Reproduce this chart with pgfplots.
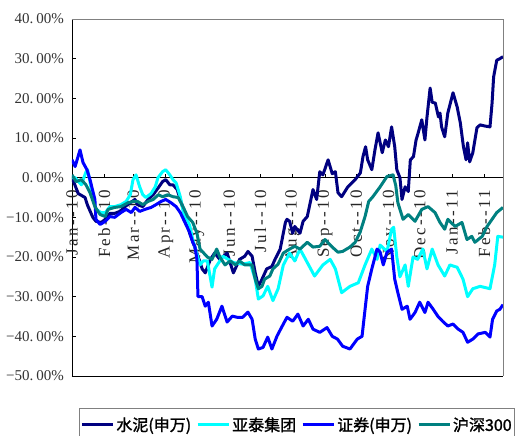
\documentclass[border=0pt]{standalone}
\usepackage{fontspec}
\setmainfont{Liberation Serif}
\newfontfamily\xlabfont[LetterSpace=14]{Liberation Serif}
\newfontfamily\cjk[FakeBold=1.5]{Noto Sans CJK SC}
\usepackage{pgfplots}
\pgfplotsset{compat=1.18}
\definecolor{cNavy}{HTML}{000080}
\definecolor{cCyan}{HTML}{00FFFF}
\definecolor{cBlue}{HTML}{0000FF}
\definecolor{cTeal}{HTML}{008080}
\newcommand\yl[1]{#1\makebox[0.45em][l]{.}00\%}
\begin{document}
\begin{tikzpicture}
\begin{axis}[
  scale only axis, width=431pt, height=357pt,
  xmin=0, xmax=414, ymin=-50, ymax=40,
  axis x line=middle, axis y line=left,
  axis line style={-, black, line width=0.8pt},
  clip mode=individual,
  hide obscured x ticks=false,
  xtick={0,31,59,90,120,151,181,212,243,273,304,334,365,396},
  xticklabels={Jan--10,Feb--10,Mar--10,Apr--10,May--10,Jun--10,Jul--10,Aug--10,Sep--10,Oct--10,Nov--10,Dec--10,Jan--11,Feb--11},
  ytick={-50,-40,-30,-20,-10,0,10,20,30,40},
  yticklabels={\yl{−50},\yl{−40},\yl{−30},\yl{−20},\yl{−10},\yl{0},\yl{10},\yl{20},\yl{30},\yl{40}},
  tick align=inside,
  major tick length=4pt,
  tick style={black, line width=0.8pt},
  x tick label style={font=\xlabfont\fontsize{17}{17}\selectfont, rotate=90, anchor=east, inner xsep=12pt, inner ysep=0pt, text=black!85},
  y tick label style={font=\fontsize{15}{15}\selectfont, anchor=east, inner sep=0pt, xshift=-8pt, text=black!80},
  legend columns=4,
  legend style={at={(0,0)}, anchor=north west, xshift=7pt, yshift=-32pt,
    draw=gray, line width=0.8pt, inner xsep=1pt, inner ysep=7pt,
    font=\cjk\fontsize{16}{16}\selectfont,
    /tikz/every even column/.append style={column sep=3pt}},
  legend image code/.code={\draw[#1] (0pt,0pt) -- (31pt,0pt);},
  every axis plot/.append style={line width=3pt, line join=round},
]
\addplot[cNavy] coordinates {
(0,0) (6,-4) (12.5,-5) (15,-7) (20,-10) (23,-11) (28,-11.3) (32,-10.5) (36.5,-9) (41,-9)
(46,-8.5) (51,-7.3) (56,-6.3) (60.5,-5.5) (63,-6.8) (68,-7.3) (73,-5.5) (78,-4.3) (83,-2.5) (87,-1)
(90,-0.5) (94,-1.8) (97,-1.8) (101,-3) (107,-8) (113,-14) (120,-19) (125,-23) (128,-24) (133,-20.6)
(137,-19) (142,-20.6) (149,-19) (155,-24) (161,-20.6) (166,-19.8) (169,-18.6) (173,-19.8) (176,-24) (179,-27.4)
(182.5,-25.6) (187,-23) (192,-22.4) (195,-20.6) (200,-18) (205,-11.3) (206.5,-10.5) (209,-11) (212,-14) (214,-12.3)
(219,-14) (222,-11) (226,-9.8) (231.5,-3) (235,-5.5) (238,1.5) (241,0.7) (246,4.5) (250,1) (253,1.5)
(255.5,-3.8) (259,-4.8) (265,-2.3) (272,-0.5) (277,1.2) (279.5,5.3) (282,7.8) (284,4.5) (288,2) (291,7)
(294,11.3) (298,6.3) (301,9.5) (304,7.8) (307,12.8) (310,7.8) (312,2) (315,0) (317,-5.5) (320,-2.3)
(323,-3.5) (325,4.5) (328,5.3) (330.5,9.5) (332,10.8) (336,14.6) (339,9.5) (341,15.3) (344,22.6) (346,19)
(349,18.8) (352,15.3) (353.5,16.3) (355,12.8) (358,10.3) (361,16.3) (366,21.4) (370,17.8) (373,13.8) (376,7.8)
(378.5,4.5) (380,8.8) (382,4) (385,6.3) (389,12.6) (392,13.3) (397,13) (401.5,12.8) (403.5,18.8) (405,25.4)
(408,29.6) (411,30) (414,30.5)
};
\addlegendentry{水泥(申万)}
\addplot[cCyan] coordinates {
(0,0) (3,0) (9,-1.8) (13.5,1.5) (15,2) (20,-4.8) (23,-8) (28,-8.8) (32,-8.8) (36.5,-7.3)
(41,-7.3) (47,-6.8) (52,-6) (56,-4.3) (58.6,-0.5) (61.5,0.7) (65,-2.3) (68,-4.3) (71,-5) (76,-4)
(80,-2.3) (82.6,0) (87,1.5) (90,2) (94,0.7) (97,-0.5) (100,-1.3) (104,-4.8) (107,-8.8) (113,-12)
(116,-15.6) (123,-22) (126,-21) (130,-21) (134.5,-27.6) (137,-23) (145,-19.8) (155,-21.4) (164,-21.8) (171,-21.4)
(176,-25.6) (179,-30.6) (183.5,-29.8) (188,-27.4) (193,-31) (198,-28) (203,-22) (209,-19) (214,-21) (219,-18)
(226,-21.4) (233,-24.8) (241,-22) (248,-20.6) (253,-23) (259,-29) (267,-27.4) (275,-26.5) (281.5,-22) (288,-18)
(293,-20.6) (296,-17) (302.6,-18.6) (307,-13) (309,-12.5) (312,-20) (315,-25) (320,-22) (323,-27.4) (327.6,-20)
(332,-20.6) (337,-18) (341,-23) (346,-18) (351.6,-22) (358,-24.8) (363,-22) (370,-22.6) (375.6,-25.6) (380,-30)
(385,-28) (392,-27.4) (401.5,-28) (406,-22) (409,-14.8) (414,-15)
};
\addlegendentry{亚泰集团}
\addplot[cBlue] coordinates {
(0,4.5) (3,2.8) (7.7,7) (10.6,3.8) (14.4,2) (17.3,-0.5) (22,-5.5) (23,-10.5) (27,-11.8) (32,-11)
(36.5,-9.8) (41,-10) (47,-8.8) (52,-8) (57,-8.8) (60.5,-7.5) (65,-8.5) (70,-8) (76,-7.5) (80.7,-6.8)
(85.5,-6) (90,-5.5) (95,-6.3) (100,-7.3) (104,-8.8) (108.5,-11.3) (113,-13.8) (116,-16.3) (118,-17.3) (120,-20.6)
(121,-30) (125,-30) (128,-32.4) (131,-31.4) (134.5,-37.4) (139,-35.7) (144,-32.4) (149,-36.4) (154,-34.9) (158.5,-35.2)
(164,-35.2) (169,-33.9) (173,-35.7) (176,-40.7) (179,-43.2) (183.5,-42.8) (188,-40.2) (192,-43.2) (197,-39.9) (202,-37.4)
(206.5,-35.2) (212,-36.2) (217,-34.4) (222,-37.4) (227,-35.7) (231.5,-38.2) (238,-39) (245,-37.8) (250,-40) (255,-40.7)
(260,-42.5) (267,-43.2) (274,-40.7) (278.6,-40) (281.5,-33.2) (284,-27.4) (288,-23) (293,-18) (296,-18.8) (299,-22)
(302.6,-18.8) (307,-18) (310,-25.6) (313,-29) (317,-33.2) (322,-32.4) (324.7,-35.7) (329.5,-34) (334,-31.4) (339,-34)
(342,-31.4) (347,-33.2) (351.6,-35) (356,-36.2) (361,-37.4) (366,-36.9) (371,-38.2) (375.6,-39) (380,-41.5) (385,-40.7)
(390,-39.4) (397,-39) (401.5,-40.2) (404,-35.7) (408,-33.6) (411,-33.2) (414,-32)
};
\addlegendentry{证券(申万)}
\addplot[cTeal] coordinates {
(0,0.7) (4,-1) (9,-0.5) (13.4,-1.8) (17.3,-3.8) (22,-7.3) (27,-9.3) (32,-9.8) (34.6,-8) (41,-7.5)
(47,-7.3) (54,-6.3) (59,-6) (63,-6) (68,-6.8) (73,-6) (78,-5.5) (83,-4.3) (87,-4.8) (92,-4.3)
(97,-4.8) (102,-5) (107,-7.5) (111,-9.8) (116,-11.3) (120,-14) (123,-18) (130,-20) (134.5,-20.6) (139,-18)
(142,-20) (147,-22) (152,-21) (157,-22) (161,-21) (166,-22) (173,-22) (176,-25.6) (179,-28) (182.5,-27.4)
(185,-25.6) (190,-24.8) (193,-23) (198,-21.8) (203,-19) (209,-18) (214,-17.3) (219,-18) (226,-16.3) (231.5,-17.5)
(238,-17.3) (243,-15.6) (250,-17.5) (255.5,-18.8) (260,-18.6) (267,-17.5) (272,-16.3) (276.7,-13.8) (281.5,-9.8) (285,-6)
(289,-4.8) (296,-2.3) (302.6,0.3) (308.4,0.7) (311,-2) (313,-6.3) (318,-10.5) (323,-9.3) (329.5,-11) (336,-8)
(342,-7.3) (348.7,-8.8) (353.5,-11.3) (358,-13) (361,-10.5) (368,-12.3) (374.6,-11.3) (379.4,-15.6) (384,-14.8) (387,-16.3)
(394,-14.8) (398.7,-12.3) (403.5,-10.5) (408,-8.8) (414,-7.5)
};
\addlegendentry{沪深300}
\draw[gray, line width=0.8pt] (rel axis cs:0,1) -- (rel axis cs:1,1) -- (rel axis cs:1,0);
\draw[black, line width=0.8pt] (rel axis cs:0,0) -- (rel axis cs:1,0);
\coordinate (BL) at (rel axis cs:0,0);
\coordinate (TR) at (rel axis cs:1,1);
\end{axis}
\pgfresetboundingbox
\useasboundingbox ([shift={(-72pt,-60pt)}]BL) rectangle ([shift={(12pt,19pt)}]TR);
\end{tikzpicture}
\end{document}
